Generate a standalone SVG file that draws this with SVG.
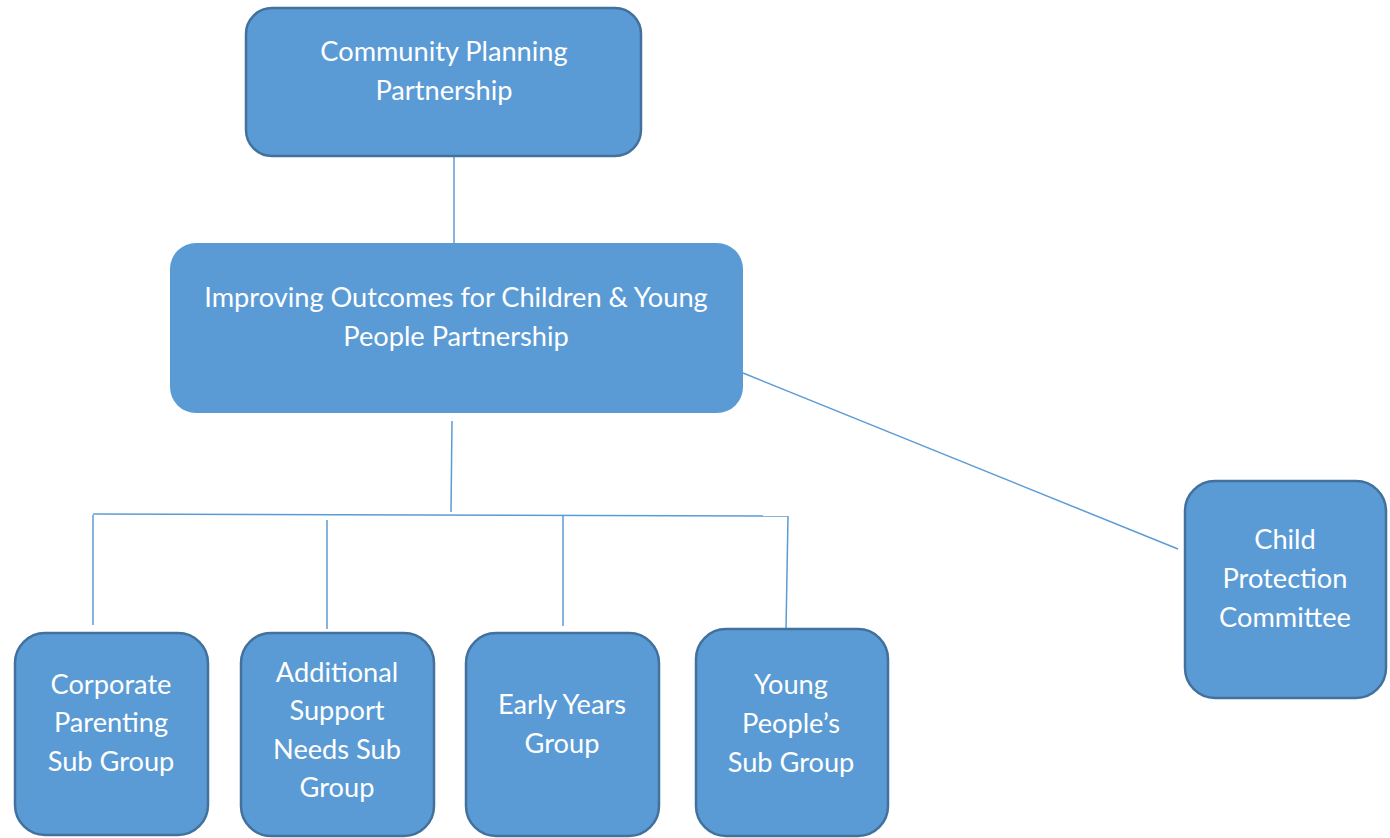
<svg xmlns="http://www.w3.org/2000/svg" width="1390" height="838" viewBox="0 0 1390 838">
<style>
.box{fill:#5b9bd5;stroke:#41719c;stroke-width:2.5}
.plain{fill:#5b9bd5;stroke:none}
.t{font-family:Lato,"Open Sans","Liberation Sans",sans-serif;font-size:27.2px;fill:#ffffff;text-anchor:middle}
.c{stroke:#5b9bd5;stroke-width:1.5;fill:none}
</style>
<rect width="1390" height="838" fill="#ffffff"/>
<g id="connectors">
<line class="c" x1="454" y1="157" x2="454" y2="243"/>
<line class="c" x1="452" y1="421" x2="451" y2="512"/>
<line class="c" x1="93" y1="514" x2="788" y2="516"/>
<line class="c" x1="93" y1="515" x2="93" y2="625"/>
<line class="c" x1="327" y1="520" x2="327" y2="629"/>
<line class="c" x1="563" y1="516" x2="563" y2="626"/>
<line class="c" x1="788" y1="516" x2="786" y2="630"/>
<line class="c" x1="743" y1="373" x2="1178" y2="549"/>
</g>
<g id="cpp">
<rect class="box" x="246" y="8" width="395" height="148" rx="26"/>
<text class="t" x="444" y="61">Community Planning</text>
<text class="t" x="444" y="100">Partnership</text>
</g>
<g id="iocyp">
<rect class="plain" x="170" y="243" width="573" height="170" rx="26"/>
<text class="t" x="456" y="307">Improving Outcomes for Children &amp; Young</text>
<text class="t" x="456" y="346">People Partnership</text>
</g>
<g id="corporate">
<rect class="box" x="15" y="633" width="193" height="202" rx="30"/>
<text class="t" x="111" y="694">Corporate</text>
<text class="t" x="111" y="732">Parenting</text>
<text class="t" x="111" y="771">Sub Group</text>
</g>
<g id="asn">
<rect class="box" x="241" y="633" width="193" height="203" rx="30"/>
<text class="t" x="337" y="682">Additional</text>
<text class="t" x="337" y="720">Support</text>
<text class="t" x="337" y="759">Needs Sub</text>
<text class="t" x="337" y="797">Group</text>
</g>
<g id="early">
<rect class="box" x="466" y="633" width="193" height="203" rx="30"/>
<text class="t" x="562" y="714">Early Years</text>
<text class="t" x="562" y="753">Group</text>
</g>
<g id="young">
<rect class="box" x="696" y="629" width="192" height="207" rx="30"/>
<text class="t" x="791" y="694">Young</text>
<text class="t" x="791" y="733">People’s</text>
<text class="t" x="791" y="772">Sub Group</text>
</g>
<g id="cpc">
<rect class="box" x="1185" y="481" width="201" height="217" rx="30"/>
<text class="t" x="1285" y="549">Child</text>
<text class="t" x="1285" y="588">Protection</text>
<text class="t" x="1285" y="627">Committee</text>
</g>
</svg>
